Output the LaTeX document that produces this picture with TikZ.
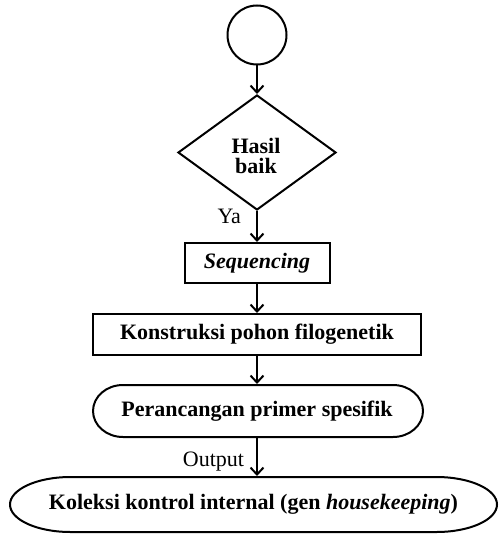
\documentclass[tikz,border=0pt]{standalone}
\usepackage{fontspec}
\setmainfont{Liberation Serif}
\usetikzlibrary{shapes.geometric,arrows.meta}
\begin{document}
\begin{tikzpicture}[x=1pt,y=-1pt,
  every node/.style={font=\fontsize{22}{20}\selectfont\bfseries, line width=2pt, align=center},
  boxst/.style={draw, rectangle, inner sep=0pt},
  outline/.style={line width=2pt, line join=round},
  arr/.style={line width=2pt, -{Straight Barb[length=7pt,width=13pt,line width=2pt]}},
  lbl/.style={font=\fontsize{22}{24}\selectfont, inner sep=0pt}]
\useasboundingbox (0,0) rectangle (498,534);
\node[draw, circle, minimum size=59pt, inner sep=0pt] (start) at (257,35) {};
\node[draw, diamond, minimum width=158pt, minimum height=115pt, inner sep=0pt] (dec) at (257,152.5) {};
\node at (256,156) {Hasil\\baik};
\node[boxst, minimum width=145pt, minimum height=40pt] (seq) at (257,263) {\itshape Sequencing};
\node[boxst, minimum width=328pt, minimum height=41pt] (kon) at (257,334.5) {Konstruksi pohon filogenetik};
\node[minimum width=330pt, minimum height=52pt, inner sep=0pt] (per) at (257,411) {Perancangan primer spesifik};
\draw[outline] (123,385) -- (393,385)
  .. controls (409.57,385) and (423,396.64) .. (423,411)
  .. controls (423,425.36) and (409.57,437) .. (393,437)
  -- (123,437)
  .. controls (106.43,437) and (93,425.36) .. (93,411)
  .. controls (93,396.64) and (106.43,385) .. (123,385) -- cycle;
\node[minimum width=487pt, minimum height=55pt, inner sep=0pt] (kol) at (253.5,504.5) {Koleksi kontrol internal (gen \textit{housekeeping})};
\draw[outline] (70.5,477) -- (436.5,477)
  .. controls (469.91,477) and (497,489.31) .. (497,504.5)
  .. controls (497,519.69) and (469.91,532) .. (436.5,532)
  -- (70.5,532)
  .. controls (37.09,532) and (10,519.69) .. (10,504.5)
  .. controls (10,489.31) and (37.09,477) .. (70.5,477) -- cycle;
\draw[arr] (start) -- (dec);
\draw[arr] (dec.south) -- node[lbl, pos=0.39, anchor=base east, xshift=-15pt] {Ya} (seq.north);
\draw[arr] (seq) -- (kon);
\draw[arr] (kon) -- (per);
\draw[arr] (per.south) -- node[lbl, pos=0.75, anchor=base east, xshift=-12pt] {Output} (kol.north -| per.south);
\end{tikzpicture}
\end{document}
